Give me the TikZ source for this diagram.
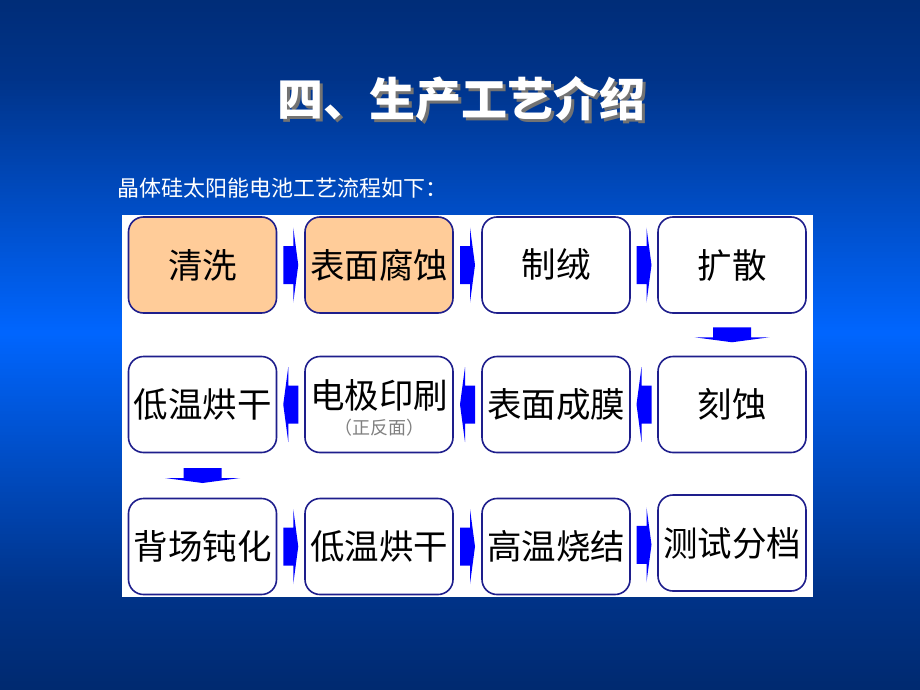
\documentclass[tikz,border=0pt]{standalone}
\usepackage{fontspec}
\newfontfamily\cjk{Noto Sans CJK SC}
\usetikzlibrary{calc}
\definecolor{boxline}{RGB}{30,30,140}
\definecolor{boxorange}{RGB}{255,204,153}
\definecolor{arrblue}{RGB}{0,0,255}
\tikzset{
  stepbox/.style={draw=boxline, line width=1.6pt, rounded corners=15pt, fill=white,
    minimum width=148pt, minimum height=96pt, inner sep=0pt, font=\cjk\fontsize{34.5}{38}\selectfont, text=black},
  hot/.style={fill=boxorange},
  rarr/.pic={\fill[arrblue] (-7.5,-19) -- (2.5,-19) -- (2.5,-37.5) -- (7.5,0) -- (2.5,37.5) -- (2.5,19) -- (-7.5,19) -- cycle;},
  larr/.pic={\fill[arrblue] (7.5,-19) -- (-2.5,-19) -- (-2.5,-37.5) -- (-7.5,0) -- (-2.5,37.5) -- (-2.5,19) -- (7.5,19) -- cycle;},
  darr/.pic={\fill[arrblue] (-19,-7.5) -- (-19,2.5) -- (-37.5,2.5) -- (0,7.5) -- (37.5,2.5) -- (19,2.5) -- (19,-7.5) -- cycle;},
}
\begin{document}
\begin{tikzpicture}[x=1pt,y=-1pt]
\useasboundingbox (0,0) rectangle (920,690);
% background gradient drawn as thin strips
\foreach \i in {0,...,229}{
  \pgfmathsetmacro{\yy}{3*\i+1.5}
  \pgfmathtruncatemacro{\gg}{\yy<80 ? 45+\yy/80*7 : (\yy<333 ? 52+(\yy-80)/253*50 : (\yy<590 ? 102-(\yy-333)/257*50 : 52-(\yy-590)/100*10))}
  \pgfmathtruncatemacro{\bb}{\yy<80 ? 120+\yy/80*18 : (\yy<333 ? 138+(\yy-80)/253*117 : (\yy<590 ? 255-(\yy-333)/257*117 : 138-(\yy-590)/100*26))}
  \definecolor{stripcol}{RGB}{0,\gg,\bb}
  \fill[stripcol] (0,\yy-1.5) rectangle (920,\yy+1.7);
}
% title
\node[text=black!55, font=\cjk\bfseries\fontsize{46}{50}\selectfont] at (464,102) {四、生产工艺介绍};
\node[text=white, font=\cjk\bfseries\fontsize{46}{50}\selectfont] (title) at (461,99) {四、生产工艺介绍};
\node[text=white, anchor=west, inner sep=0pt, font=\cjk\fontsize{22}{25}\selectfont] (sub) at (117,188) {晶体硅太阳能电池工艺流程如下：};
% panel
\fill[white] (122,215) rectangle (813,597);
% row 1
\node[stepbox,hot] (a1) at (202.5,265) {清洗};
\node[stepbox,hot] (a2) at (379,265) {表面腐蚀};
\node[stepbox] (a3) at (556,265) {制绒};
\node[stepbox] (a4) at (732,265) {扩散};
% row 2
\node[stepbox] (b1) at (202.5,404.5) {低温烘干};
\node[stepbox] (b2) at (379,404.5) {};
\node[font=\cjk\fontsize{34.5}{38}\selectfont, inner sep=0pt] (b2t) at (379,395) {电极印刷};
\node[font=\cjk\fontsize{18}{20}\selectfont, text=black!50, inner sep=0pt] (b2s) at (379,428) {（正反面）};
\node[stepbox] (b3) at (556,404.5) {表面成膜};
\node[stepbox] (b4) at (732,404.5) {刻蚀};
% row 3
\node[stepbox] (c1) at (202.5,546.5) {背场钝化};
\node[stepbox] (c2) at (379,546.5) {低温烘干};
\node[stepbox] (c3) at (556,546.5) {高温烧结};
\node[stepbox] (c4) at (732,543) {测试分档};
% arrows
\pic at ($(a1.east)!0.5!(a2.west)$) {rarr};
\pic at ($(a2.east)!0.5!(a3.west)$) {rarr};
\pic at ($(a3.east)!0.5!(a4.west)$) {rarr};
\pic at ($(a4.south)!0.5!(b4.north)$) {darr};
\pic at ($(b4.west)!0.5!(b3.east)$) {larr};
\pic at ($(b3.west)!0.5!(b2.east)$) {larr};
\pic at ($(b2.west)!0.5!(b1.east)$) {larr};
\pic at ($(b1.south)!0.5!(c1.north)$) {darr};
\pic at ($(c1.east)!0.5!(c2.west)$) {rarr};
\pic at ($(c2.east)!0.5!(c3.west)$) {rarr};
\pic at ($(c3.east)!0.5!(c4.west)$) {rarr};
\end{tikzpicture}
\end{document}
